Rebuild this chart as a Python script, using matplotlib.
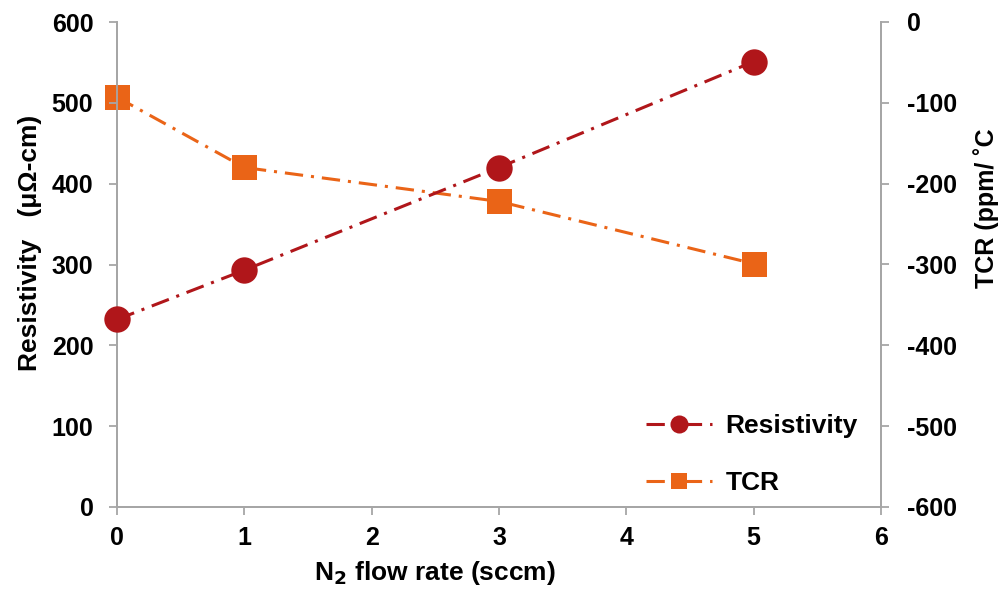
import matplotlib
matplotlib.use("Agg")
import matplotlib.pyplot as plt
from matplotlib.lines import Line2D

plt.rcParams['font.family'] = ['Liberation Sans', 'DejaVu Sans']
plt.rcParams['font.weight'] = 'bold'
plt.rcParams['axes.unicode_minus'] = False

# Data
flow_rate = [0, 1, 3, 5]
resistivity = [232, 293, 420, 551]
tcr = [-93, -180, -222, -299]

x_ticks = [0, 1, 2, 3, 4, 5, 6]
left_ticks = [0, 100, 200, 300, 400, 500, 600]
right_ticks = [0, -100, -200, -300, -400, -500, -600]

RED = '#B0161A'
ORANGE = '#EA6417'
SPINE = '#A6A6A6'
FS = 18

fig = plt.figure(figsize=(10.06, 5.95), dpi=100)
ax = fig.add_axes([117/1006, 1 - 507/595, (881-117)/1006, (507-22)/595])
ax2 = ax.twinx()

dash = (6.0, 2.6, 1.0, 2.6)
lw = 2.2

ax.plot(flow_rate, resistivity, color=RED, lw=lw, linestyle=(0, dash),
        marker='o', ms=19, markeredgewidth=0, zorder=3, clip_on=False)
ax2.plot(flow_rate, tcr, color=ORANGE, lw=lw, linestyle=(0, dash),
         marker='s', ms=18, markeredgewidth=0, zorder=3, clip_on=False)

ax.set_xlim(0, 6)
ax.set_ylim(0, 600)
ax2.set_ylim(-600, 0)
ax.set_xticks(x_ticks)
ax.set_yticks(left_ticks)
ax2.set_yticks(right_ticks)

for a in (ax, ax2):
    a.spines['top'].set_visible(False)
    for s in ('left', 'right', 'bottom'):
        a.spines[s].set_color(SPINE)
        a.spines[s].set_linewidth(1.3)
    a.tick_params(axis='both', which='major', length=6, width=1.3,
                  color=SPINE, labelsize=FS, direction='out', pad=8)
ax.tick_params(axis='y', pad=11)
ax2.tick_params(axis='y', pad=13)

ax.set_zorder(ax2.get_zorder() + 1)
ax.patch.set_visible(False)

fig.text(30/1006, 1 - 243/595, 'Resistivity   (μΩ-cm)', rotation=90,
         ha='center', va='center', fontsize=19, fontweight='bold')
fig.text(986/1006, 1 - 208/595, 'TCR (ppm/ ˚C', rotation=90,
         ha='center', va='center', fontsize=18, fontweight='bold')
fig.text(435/1006, 1 - 573/595, r'N$_\mathbf{2}$ flow rate (sccm)',
         ha='center', va='center', fontsize=19, fontweight='bold')

handles = [
    Line2D([], [], color=RED, lw=lw, linestyle=(0, dash), marker='o',
           ms=13, markeredgewidth=0),
    Line2D([], [], color=ORANGE, lw=lw, linestyle=(0, dash), marker='s',
           ms=12, markeredgewidth=0),
]
leg = ax.legend(handles, ['Resistivity', 'TCR'], loc='lower right',
                bbox_to_anchor=(0.987, -0.003), frameon=False,
                prop={'size': 19, 'weight': 'bold'},
                handlelength=2.5, labelspacing=1.27, handletextpad=0.5,
                borderaxespad=0.1)

fig.savefig('out.png', dpi=100)
